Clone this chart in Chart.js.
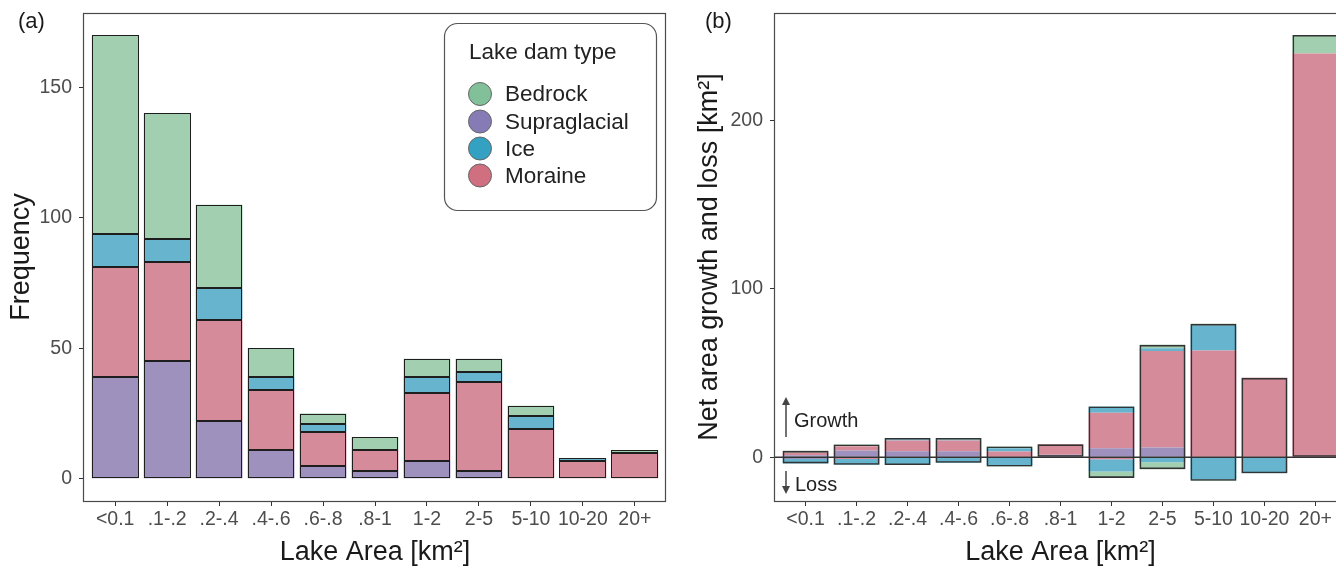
<!DOCTYPE html>
<html><head><meta charset="utf-8">
<script src="https://cdn.jsdelivr.net/npm/chart.js@4"></script>
<style>
html,body{margin:0;padding:0;background:#fff;overflow:hidden;width:1336px;height:568px;}
#ca{position:absolute;left:0;top:0;}
#cb{position:absolute;left:680px;top:0;}
</style></head><body>
<canvas id="ca" width="700" height="568"></canvas>
<canvas id="cb" width="680" height="568"></canvas>
<script>
// ---------- data ----------
const categories = ['<0.1', '.1-.2', '.2-.4', '.4-.6', '.6-.8', '.8-1', '1-2', '2-5', '5-10', '10-20', '20+'];
const legendOrder = ['Bedrock', 'Supraglacial', 'Ice', 'Moraine'];

// Panel (a): frequency by dam type
const freqSupraglacial = [39, 45, 22, 11, 5, 3, 7, 3, 0, 0, 0];
const freqMoraine      = [42, 38, 39, 23, 13, 8, 26, 34, 19, 7, 10];
const freqIce          = [13, 9, 12, 5, 3, 0, 6, 4, 5, 1, 0];
const freqBedrock      = [76, 48, 32, 11, 4, 5, 7, 5, 4, 0, 1];
const freqTicks = [0, 50, 100, 150];

// Panel (b): net area growth (positive) and loss (negative), km²
const growthSupraglacial = [1.2, 4, 3.6, 3.6, 0, 1.5, 5.4, 5.8, 0, 0, 0];
const growthMoraine      = [1.6, 2.6, 6.3, 6.3, 3.4, 6.2, 21, 57.3, 63.5, 47.2, 240];
const growthIce          = [0, 0, 0.8, 0.6, 2, 0, 3.8, 1.7, 15, 0, 0];
const growthBedrock      = [1, 1, 0.8, 1, 1, 0, 0, 2, 0.8, 0, 11];
const lossSupraglacial   = [-1, 0, 0, 0, 0, 0, 0, 0, 0, 0, 0];
const lossMoraine        = [0, -1, 0, 0, 0, 0, -1.2, -0.5, 0, 0, 0];
const lossIce            = [-2.7, -3.5, -4.6, -3.3, -4.8, 0, -7.3, -2.5, -13.2, -9.5, 0];
const lossBedrock        = [0, 0, 0, 0, -0.7, 0, -3.8, -4.1, -0.8, 0, 0];
const netTicks = [0, 100, 200];

// ---------- styles ----------
const FONT = '"Liberation Sans", Helvetica, Arial, sans-serif';
const fillColors = {Bedrock: '#a2cfb0', Supraglacial: '#9f91bd', Ice: '#67b4ce', Moraine: '#d68b9a'};
const keyColors  = {Bedrock: '#82c09a', Supraglacial: '#877bb5', Ice: '#34a0c2', Moraine: '#cf6f7f'};
const tickColor = '#4d4d4d';
const titleColor = '#1a1a1a';
const frameColor = '#4a4a4a';

const xy = arr => arr.map((v, i) => ({x: i, y: v}));

function xAxis() {
  return {
    type: 'linear', min: -0.6, max: categories.length - 1 + 0.6, offset: false, stacked: true,
    afterBuildTicks: s => { s.ticks = categories.map((c, i) => ({value: i})); },
    afterFit: s => { s.height = 67; s.paddingLeft = 0; s.paddingRight = 0; },
    ticks: {callback: v => categories[v], color: tickColor, font: {family: FONT, size: 19.5}, padding: 2, maxRotation: 0, autoSkip: false},
    grid: {display: true, drawOnChartArea: false, drawTicks: true, tickLength: 5, tickColor: '#333', offset: false, lineWidth: 1},
    border: {display: false},
    title: {display: true, text: 'Lake Area [km²]', color: titleColor, font: {family: FONT, size: 27}, padding: {top: 0, bottom: -1}}
  };
}
function yAxis(min, max, ticks, width, title, tpad) {
  return {
    type: 'linear', min: min, max: max, stacked: true,
    afterBuildTicks: s => { s.ticks = ticks.map(v => ({value: v})); },
    afterFit: s => { s.width = width; s.paddingTop = 0; s.paddingBottom = 0; },
    ticks: {color: tickColor, font: {family: FONT, size: 19.5}, padding: 7},
    grid: {display: true, drawOnChartArea: false, drawTicks: true, tickLength: 5, tickColor: '#333', lineWidth: 1},
    border: {display: false},
    title: {display: true, text: title, color: titleColor, font: {family: FONT, size: 27}, padding: {top: tpad, bottom: 0}}
  };
}
const framePlugin = {
  id: 'frame',
  afterDraw(chart) {
    const {ctx, chartArea: a} = chart;
    ctx.save();
    ctx.strokeStyle = frameColor; ctx.lineWidth = 1.2;
    ctx.strokeRect(a.left - 0.5, a.top + 0.5, a.right - a.left, a.bottom - a.top);
    ctx.restore();
  }
};
function panelLabel(text, x, y) {
  return {
    id: 'plabel' + text,
    afterDraw(chart) {
      const ctx = chart.ctx;
      ctx.save();
      ctx.font = '22px ' + FONT; ctx.fillStyle = titleColor;
      ctx.textBaseline = 'middle'; ctx.textAlign = 'left';
      ctx.fillText(text, x, y);
      ctx.restore();
    }
  };
}
// crisp 1px outlines around each stacked segment (panel a)
const segmentOutline = {
  id: 'segOutline',
  afterDatasetsDraw(chart) {
    const ctx = chart.ctx;
    ctx.save();
    ctx.strokeStyle = '#1e1e1e'; ctx.lineWidth = 1;
    chart.data.datasets.forEach((ds, di) => {
      chart.getDatasetMeta(di).data.forEach(el => {
        const top = Math.min(el.y, el.base), bot = Math.max(el.y, el.base);
        if (bot - top < 0.3) return;
        const l = Math.round(el.x - el.width / 2) + 0.5, r = Math.round(el.x + el.width / 2) - 0.5;
        const t = Math.round(top) + 0.5, b = Math.round(bot) - 0.5;
        ctx.strokeRect(l, t, r - l, Math.max(b - t, 0.5));
      });
    });
    ctx.restore();
  }
};

// ---------- panel (a) ----------
const seriesA = {Supraglacial: freqSupraglacial, Moraine: freqMoraine, Ice: freqIce, Bedrock: freqBedrock};
const legendPlugin = {
  id: 'damLegend',
  afterDraw(chart) {
    const ctx = chart.ctx;
    ctx.save();
    const x = 444, y = 23, w = 212, h = 187, r = 13;
    ctx.beginPath();
    ctx.roundRect(x + 0.5, y + 0.5, w, h, r);
    ctx.fillStyle = '#fff'; ctx.fill();
    ctx.strokeStyle = '#555'; ctx.lineWidth = 1.2; ctx.stroke();
    ctx.fillStyle = '#222'; ctx.textBaseline = 'middle'; ctx.textAlign = 'left';
    ctx.font = '22.5px ' + FONT;
    ctx.fillText('Lake dam type', 469, 53);
    const ys = [94, 121.5, 148.5, 175.5];
    legendOrder.forEach((name, i) => {
      ctx.beginPath(); ctx.arc(480, ys[i], 11.5, 0, Math.PI * 2);
      ctx.fillStyle = keyColors[name]; ctx.fill();
      ctx.strokeStyle = '#666'; ctx.lineWidth = 1; ctx.stroke();
      ctx.fillStyle = '#222';
      ctx.fillText(name, 505, ys[i] + 1);
    });
    ctx.restore();
  }
};
new Chart(document.getElementById('ca'), {
  type: 'bar',
  data: {
    datasets: ['Supraglacial', 'Moraine', 'Ice', 'Bedrock'].map(name => ({
      label: name, data: xy(seriesA[name]),
      backgroundColor: fillColors[name], borderWidth: 0,
      inflateAmount: 0, categoryPercentage: 1, barPercentage: 0.9
    }))
  },
  options: {
    responsive: false, animation: false,
    layout: {padding: {left: 0, right: 34, top: 13, bottom: 0}},
    plugins: {legend: {display: false}, tooltip: {enabled: false}},
    scales: {x: xAxis(), y: yAxis(-8.5, 178.5, freqTicks, 84, 'Frequency', 5)}
  },
  plugins: [segmentOutline, framePlugin, legendPlugin, panelLabel('(a)', 18, 22)]
});

// ---------- panel (b) ----------
const growth = {Supraglacial: growthSupraglacial, Moraine: growthMoraine, Ice: growthIce, Bedrock: growthBedrock};
const loss = {Supraglacial: lossSupraglacial, Moraine: lossMoraine, Ice: lossIce, Bedrock: lossBedrock};
const stackOrder = ['Supraglacial', 'Moraine', 'Ice', 'Bedrock'];
const growthTotal = categories.map((c, i) => stackOrder.reduce((s, n) => s + growth[n][i], 0));
const lossTotal = categories.map((c, i) => stackOrder.reduce((s, n) => s + loss[n][i], 0));

const datasetsB = [{
  label: 'outline', stack: 'outline', grouped: false,
  data: categories.map((c, i) => ({x: i, y: [lossTotal[i], growthTotal[i]]})),
  backgroundColor: 'rgba(0,0,0,0)', borderColor: '#333', borderWidth: 1.6, borderSkipped: false,
  categoryPercentage: 1, barPercentage: 0.9
}];
stackOrder.forEach(name => datasetsB.push({label: name + ' growth', stack: 'net', data: xy(growth[name]),
  backgroundColor: fillColors[name], borderWidth: 0, categoryPercentage: 1, barPercentage: 0.9}));
stackOrder.forEach(name => datasetsB.push({label: name + ' loss', stack: 'net', data: xy(loss[name]),
  backgroundColor: fillColors[name], borderWidth: 0, categoryPercentage: 1, barPercentage: 0.9}));

const zeroPlugin = {
  id: 'zero',
  afterDatasetsDraw(chart) {
    const {ctx, chartArea: a, scales} = chart;
    const y = scales.y.getPixelForValue(0);
    ctx.save();
    ctx.strokeStyle = '#333'; ctx.lineWidth = 1.6;
    ctx.beginPath(); ctx.moveTo(a.left, y); ctx.lineTo(a.right, y); ctx.stroke();
    // growth / loss annotations
    ctx.strokeStyle = '#444'; ctx.fillStyle = '#444'; ctx.lineWidth = 1.5;
    const ax = 106;
    ctx.beginPath(); ctx.moveTo(ax, 437); ctx.lineTo(ax, 401); ctx.stroke();
    ctx.beginPath(); ctx.moveTo(ax - 4, 405); ctx.lineTo(ax, 397); ctx.lineTo(ax + 4, 405); ctx.closePath(); ctx.fill();
    ctx.beginPath(); ctx.moveTo(ax, 471); ctx.lineTo(ax, 490); ctx.stroke();
    ctx.beginPath(); ctx.moveTo(ax - 4, 486); ctx.lineTo(ax, 494); ctx.lineTo(ax + 4, 486); ctx.closePath(); ctx.fill();
    ctx.fillStyle = '#222'; ctx.font = '20px ' + FONT; ctx.textBaseline = 'middle'; ctx.textAlign = 'left';
    ctx.fillText('Growth', 114, 421);
    ctx.fillText('Loss', 115, 485);
    ctx.restore();
  }
};
new Chart(document.getElementById('cb'), {
  type: 'bar',
  data: {datasets: datasetsB},
  options: {
    responsive: false, animation: false,
    layout: {padding: {left: 0, right: 14, top: 13, bottom: 0}},
    plugins: {legend: {display: false}, tooltip: {enabled: false}},
    scales: {x: xAxis(), y: yAxis(-26, 264, netTicks, 95, 'Net area growth and loss [km²]', 13)}
  },
  plugins: [framePlugin, zeroPlugin, panelLabel('(b)', 25, 22)]
});
</script>
</body></html>
